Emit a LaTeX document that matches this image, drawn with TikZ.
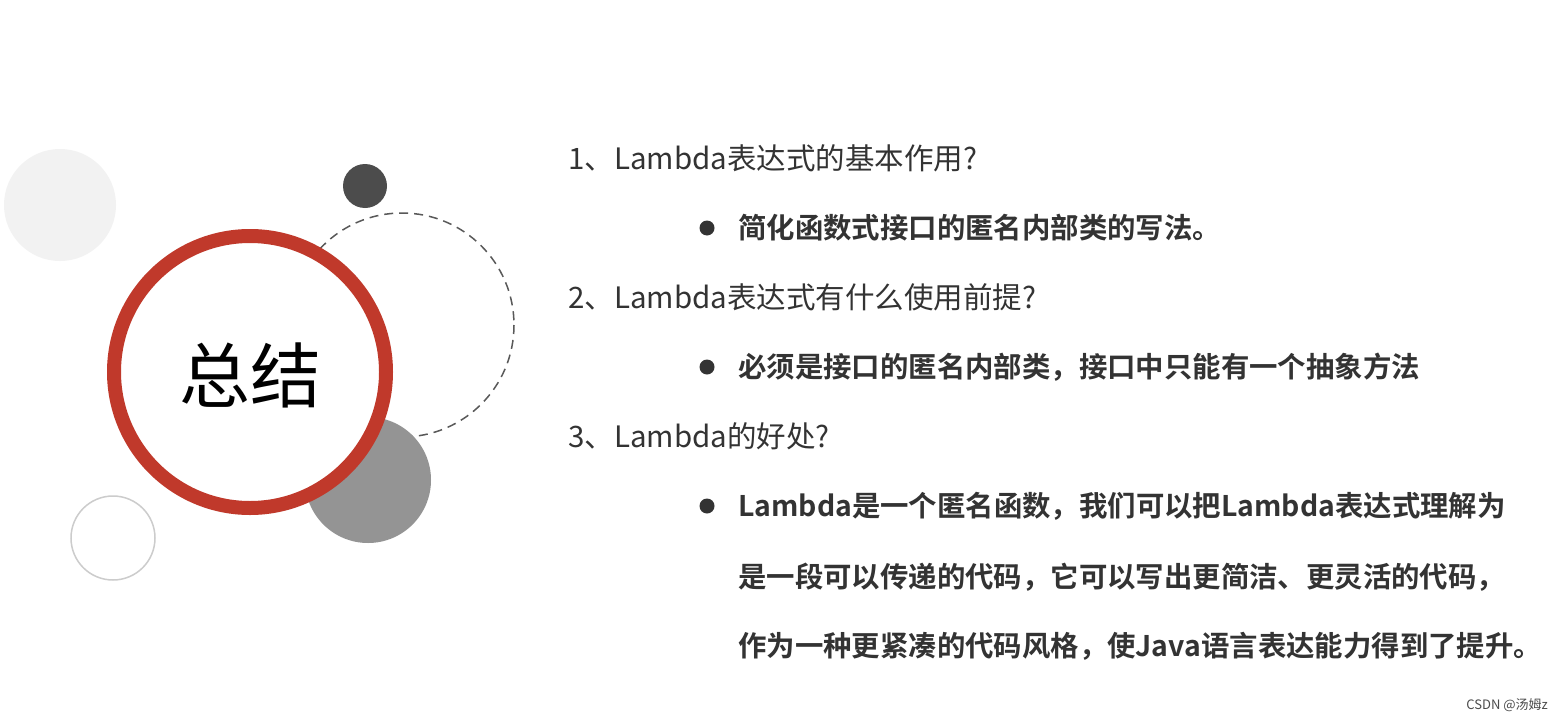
\documentclass[tikz,border=0pt]{standalone}
\usepackage{fontspec}
\setmainfont{Noto Sans CJK SC}[BoldFont={Noto Sans CJK SC Bold}]
\definecolor{ringred}{HTML}{C0392B}
\definecolor{txt}{HTML}{333333}
\begin{document}
\begin{tikzpicture}[x=1pt,y=-1pt,
  head/.style={anchor=west,font=\fontsize{29.5}{34}\selectfont,text=txt,inner sep=0},
  item/.style={anchor=west,font=\fontsize{28.4}{34}\selectfont\bfseries,text=txt,inner sep=0},
  dot/.style={circle,fill=txt,minimum size=15pt,inner sep=0}]
\useasboundingbox (0,0) rectangle (1561,720);
\fill[white] (0,0) rectangle (1561,720);
\fill[gray!10] (60,205) circle (56);
\fill[black!70] (365,186) circle (22);
\draw[black!65,dashed,line width=1.5pt,dash pattern=on 9pt off 6pt] (402,325) circle (112);
\fill[black!42] (368,480) circle (63);
\draw[black!20,line width=1.5pt] (113,538) circle (42);
\draw[ringred,line width=14pt,fill=white] (250,372) circle (136);
\node[font=\fontsize{71}{78}\selectfont,text=black] (zj) at (250,375) {总结};
\node[head] (h1) at (568,158) {1、Lambda表达式的基本作用?};
\node[dot] (d1) at (707,228) {};
\node[item] (i1) at (738,228) {简化函数式接口的匿名内部类的写法。};
\node[head] (h2) at (568,297) {2、Lambda表达式有什么使用前提?};
\node[dot] (d2) at (707,367) {};
\node[item] (i2) at (738,367) {必须是接口的匿名内部类，接口中只能有一个抽象方法};
\node[head] (h3) at (568,436) {3、Lambda的好处?};
\node[dot] (d3) at (707,506) {};
\node[item] (i3) at (738,506) {Lambda是一个匿名函数，我们可以把Lambda表达式理解为};
\node[item] (i4) at (738,577) {是一段可以传递的代码，它可以写出更简洁、更灵活的代码，};
\node[item] (i5) at (738,646) {作为一种更紧凑的代码风格，使Java语言表达能力得到了提升。};
\node[anchor=east,font=\fontsize{13}{15}\selectfont,text=black!70,inner sep=0] (ft) at (1548,705) {CSDN @汤姆z};
\end{tikzpicture}
\end{document}
